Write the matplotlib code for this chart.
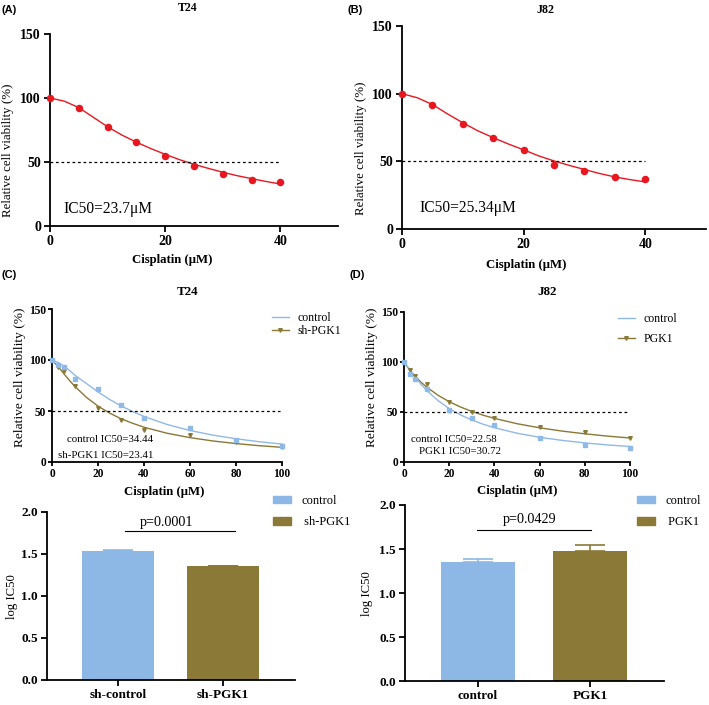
# Cisplatin dose response (A-D) redrawn from the figure
import matplotlib
matplotlib.use('Agg')
import matplotlib.pyplot as plt
from matplotlib.lines import Line2D
from matplotlib.patches import Patch


######## ######## ######## ########
# DATA

# (A) T24 and (B) J82, single series
doseAB = [0, 5, 10, 15, 20, 25, 30, 35, 40]
viabT24 = [100, 92.5, 77, 65.5, 55, 47, 41, 36, 34.3]
viabJ82 = [100, 91.5, 77.7, 67.6, 58.5, 47.6, 42.7, 38.7, 36.8]

# fitted curves
fitDoseAB = [0, 2.5, 5, 7.5, 10, 12.5, 15, 17.5, 20, 22.5, 25, 27.5, 30, 32.5, 35, 37.5, 40]
fitT24 = [100, 97.5, 92.5, 85, 77.5, 71, 65.5, 60.5, 56, 51.8, 48.2, 45, 42, 39.3, 37, 34.8, 32.8]
fitJ82 = [100, 97, 92, 85, 78.5, 72.5, 67.5, 62.8, 58.5, 54, 50.3, 47, 44, 41, 38.5, 36.5, 34.8]

# (C) T24 control vs sh-PGK1, (D) J82 control vs PGK1
doseCD = [0, 2.5, 5, 10, 20, 30, 40, 60, 80, 100]
ctrlC = [100, 95, 93, 81, 71.5, 55.5, 43.5, 33, 21.5, 15.7]
shC = [100, 93.5, 89, 74.5, 53.3, 41.2, 31.4, 26.5, 20, 15]
ctrlD = [100, 88, 83, 73, 52, 44.5, 37, 24.5, 17.5, 14]
pgkD = [100, 92, 86, 78, 60, 50.5, 44.5, 35.5, 30.5, 24]

fitDoseCD = [0, 2.5, 5, 7.5, 10, 15, 20, 25, 30, 35, 40, 50, 60, 70, 80, 90, 100]
fitCtrlC = [100, 97.8, 94.3, 90, 85, 76.9, 68.7, 61.4, 55, 49.6, 44.6, 36.8, 30.9, 26.3, 22.8, 19.9, 17.6]
fitShC = [100, 94, 87, 80.2, 74, 63.3, 54.8, 48, 42.4, 38, 34.1, 28.2, 23.9, 20.6, 18.1, 16, 14.4]
fitCtrlD = [100, 92.5, 84.8, 77.8, 71.7, 61.5, 53.4, 47.1, 42, 37.8, 34.3, 28.8, 24.7, 21.6, 19.1, 17.1, 15.5]
fitPgkD = [100, 92, 85.5, 79.8, 75, 66.8, 60.3, 55, 50.6, 46.8, 43.6, 38.3, 34.2, 30.9, 28.2, 25.9, 24]

# log IC50 bars
barNamesC = ['sh-control', 'sh-PGK1']
logIcC = [1.537, 1.355]
logErrC = [0.015, 0.008]
barNamesD = ['control', 'PGK1']
logIcD = [1.35, 1.48]
logErrD = [0.04, 0.07]


######## ######## ######## ########
# STYLE

W, H = 709, 705
red = '#e8171f'
blue = '#8fb9e6'
olive = '#8a7837'
barBlue = '#8db7e4'
barOlive = '#8b7938'

plt.rcParams['font.family'] = ['Liberation Serif', 'DejaVu Serif']
plt.rcParams['axes.linewidth'] = 1.3


def axRect(left, right, top, bottom) :
	return [left / W, 1 - bottom / H, (right - left) / W, (bottom - top) / H]
#end def


def figText(fig, x, y, s, **kw) :
	fig.text(x / W, 1 - y / H, s, **kw)
#end def


def styleAxes(ax, tickSize, tickLen=4.5, tickPad=2) :
	ax.spines['top'].set_visible(False)
	ax.spines['right'].set_visible(False)
	ax.tick_params(direction='out', length=tickLen, width=1.3, labelsize=tickSize, pad=tickPad)
	for lab in ax.get_xticklabels() + ax.get_yticklabels() :
		lab.set_fontweight('bold')
#end def


######## ######## ######## ########
# FIGURE

fig = plt.figure(figsize=(W / 100, H / 100), dpi=100)

# --- (A) and (B)
for rect, ys, fy, ic, icPos in [
		(axRect(50, 338, 34, 226), viabT24, fitT24, 'IC50=23.7\u03bcM', (2.3, 13)),
		(axRect(402, 706, 26, 229), viabJ82, fitJ82, 'IC50=25.34\u03bcM', (2.8, 15.5))] :
	ax = fig.add_axes(rect)
	ax.plot(fitDoseAB, fy, color=red, lw=1.0, clip_on=False)
	ax.plot(doseAB, ys, 'o', color=red, ms=4.4, clip_on=False, zorder=3)
	ax.plot([0, 40], [50, 50], color='black', lw=0.9, ls=(0, (2.2, 2.2)))
	ax.text(icPos[0], icPos[1], ic, fontsize=11.2, va='center')
	ax.set_xlim(0, 50)
	ax.set_ylim(0, 150)
	ax.set_xticks([0, 20, 40])
	ax.set_yticks([0, 50, 100, 150])
	styleAxes(ax, 10)
#end for

# --- (C) and (D) top
for rect, ya, yb, fa, fb, nameB, txt, legSpace, legPos in [
		(axRect(52, 282, 309, 462), ctrlC, shC, fitCtrlC, fitShC, 'sh-PGK1',
			[('control IC50=34.44', 110, 440), ('sh-PGK1 IC50=23.41', 106, 456)], 0.1, (272, 312)),
		(axRect(404, 630, 312, 462), ctrlD, pgkD, fitCtrlD, fitPgkD, 'PGK1',
			[('control IC50=22.58', 454, 439), ('PGK1 IC50=30.72', 460, 452)], 0.65, (618, 313))] :
	ax = fig.add_axes(rect)
	ax.plot(fitDoseCD, fb, color=olive, lw=1.0, clip_on=False)
	ax.plot(fitDoseCD, fa, color=blue, lw=1.0, clip_on=False)
	ax.plot(doseCD, yb, 'v', color=olive, ms=2.6, clip_on=False, zorder=3)
	ax.plot(doseCD, ya, 's', color=blue, ms=2.6, clip_on=False, zorder=3)
	ax.plot([0, 99], [50, 50], color='black', lw=0.9, ls=(0, (2.2, 2.2)))
	ax.set_xlim(0, 100)
	ax.set_ylim(0, 150)
	ax.set_xticks([0, 20, 40, 60, 80, 100])
	ax.set_yticks([0, 50, 100, 150])
	styleAxes(ax, 8.3, tickLen=3, tickPad=1.2)
	for s, tx, ty in txt :
		figText(fig, tx, ty, s, fontsize=7.8, ha='center', va='center')

	hands = [Line2D([], [], color=blue, lw=1.0),
		Line2D([], [], color=olive, lw=1.0, marker='v', ms=2.6)]
	fig.legend(hands, ['control', nameB], loc='upper left',
		bbox_to_anchor=(legPos[0] / W, 1 - legPos[1] / H), frameon=False,
		fontsize=8.5, handlelength=1.4, handletextpad=0.8, borderpad=0,
		borderaxespad=0, labelspacing=legSpace)
#end for

# --- bar panels
for rect, names, vals, errs, xl, wid, pLine, pTxt, pPos, legPos in [
		(axRect(47, 295, 512, 680), barNamesC, logIcC, logErrC, (-0.676, 1.686), 0.68,
			(0.07, 1.11, 1.77), 'p=0.0001', (0.46, 1.88), (273, 495)),
		(axRect(405, 664, 505, 681), barNamesD, logIcD, logErrD, (-0.652, 1.661), 0.66,
			(-0.01, 1.01, 1.716), 'p=0.0429', (0.46, 1.83), (637, 495))] :
	ax = fig.add_axes(rect)
	cols = [barBlue, barOlive]
	ax.bar([0, 1], vals, width=wid, color=cols, zorder=2)
	for i in range(2) :
		ax.errorbar(i, vals[i], yerr=[[0], [errs[i]]], color=cols[i], capsize=11,
			elinewidth=1.2, capthick=1.2, zorder=1)
	ax.plot([pLine[0], pLine[1]], [pLine[2], pLine[2]], color='black', lw=0.8)
	ax.text(pPos[0], pPos[1], pTxt, fontsize=10.2, ha='center', va='center')
	ax.set_xlim(xl)
	ax.set_ylim(0, 2.0)
	ax.set_xticks([0, 1])
	ax.set_xticklabels(names)
	ax.set_yticks([0, 0.5, 1.0, 1.5, 2.0])
	ax.set_yticklabels(['0.0', '0.5', '1.0', '1.5', '2.0'])
	styleAxes(ax, 9.5)

	hands = [Patch(color=barBlue), Patch(color=barOlive)]
	fig.legend(hands, ['control', ' ' + names[1]], loc='upper left',
		bbox_to_anchor=(legPos[0] / W, 1 - legPos[1] / H), frameon=False,
		fontsize=9, handlelength=1.45, handleheight=0.55, handletextpad=0.8,
		borderpad=0, borderaxespad=0, labelspacing=0.75)
#end for


######## ######## ######## ########
# LABELS

sans = ['Liberation Sans', 'DejaVu Sans']
for s, x, y in [('(A)', 2, 10), ('(B)', 348, 10), ('(C)', 2, 275), ('(D)', 350, 275)] :
	figText(fig, x, y, s, fontsize=8, fontweight='bold', family=sans, va='center')

for s, x, y, sz in [('T24', 188, 8, 8.6), ('J82', 545, 10, 8.6), ('T24', 188, 292, 9.4), ('J82', 547, 292, 9.4)] :
	figText(fig, x, y, s, fontsize=sz, fontweight='bold', ha='center', va='center')

for x, y in [(172, 260), (526, 265), (164, 492), (517, 491)] :
	figText(fig, x, y, 'Cisplatin (\u03bcM)', fontsize=9.2, fontweight='bold', ha='center', va='center')

for x, y, sz in [(8.5, 150, 9.3), (361, 148, 9.3), (20, 377, 9.6), (372, 377, 9.6)] :
	figText(fig, x, y, 'Relative cell viability (%)', fontsize=sz, rotation=90, ha='center', va='center')

for x, y in [(12, 597), (367, 594)] :
	figText(fig, x, y, 'log IC50', fontsize=9.2, rotation=90, ha='center', va='center')

fig.savefig('out.png', dpi=100)
